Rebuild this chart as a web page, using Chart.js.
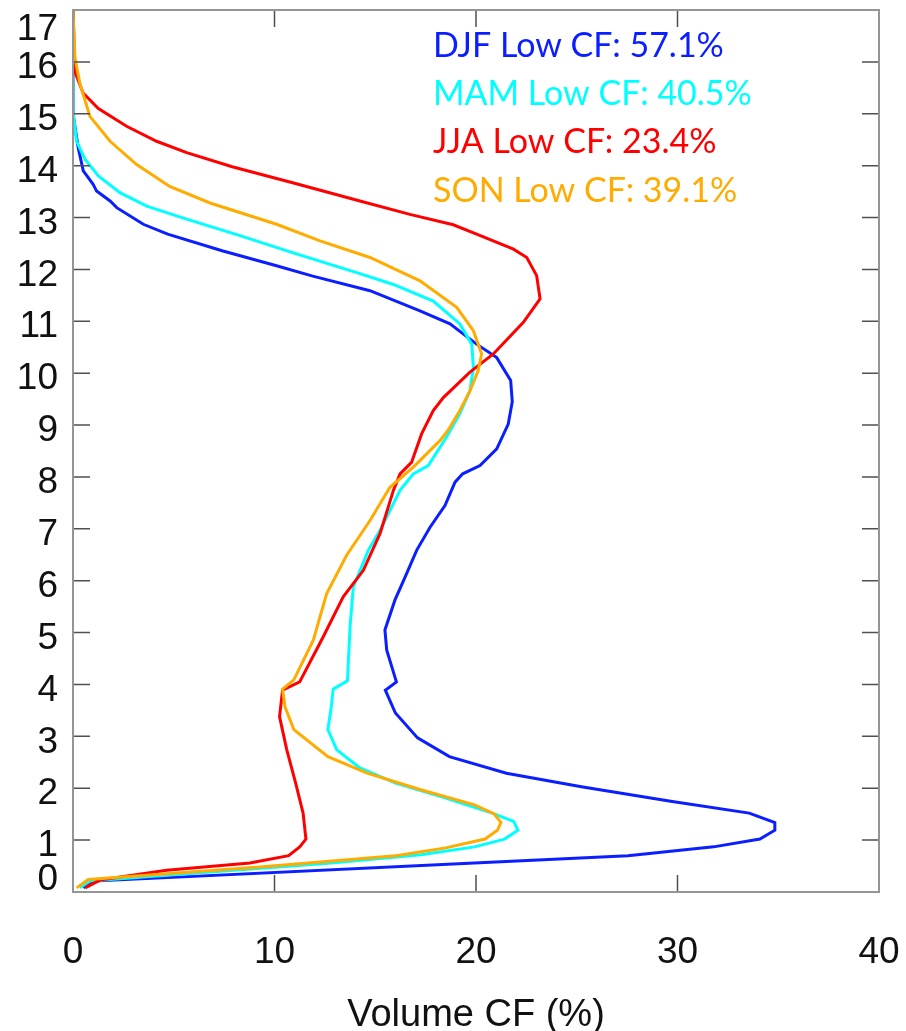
<!DOCTYPE html>
<html lang="en">
<head>
    <meta charset="UTF-8">
    <title>Volume CF profiles</title>
    <script src="https://cdn.jsdelivr.net/npm/chart.js@4.4.1/dist/chart.umd.min.js"></script>
    <style>
        html, body { margin: 0; padding: 0; background: #fff; }
        #wrap { width: 906px; height: 1031px; }
    </style>
</head>
<body>
    <div id="wrap"><canvas id="cfChart"></canvas></div>

    <script>
        // height levels (km) and volume cloud fraction (%)
        const djfHeight = [17, 15.0, 14.34, 13.9, 13.64, 13.51, 13.32, 13.19, 12.87, 12.68, 12.36, 12.07, 11.87, 11.59, 11.2, 10.95, 10.56, 10.3, 9.86, 9.45, 9.02, 8.54, 8.22, 8.06, 7.9, 7.45, 7.03, 6.59, 6.07, 5.63, 5.05, 4.66, 4.05, 3.89, 3.45, 2.97, 2.61, 2.29, 2.03, 1.75, 1.52, 1.34, 1.19, 1.02, 0.87, 0.70, 0.56, 0.21, 0.08];
        const djfCF     = [0, 0, 0.26, 0.51, 1.0, 1.17, 1.84, 2.17, 3.49, 4.7, 7.4, 10.1, 11.9, 14.74, 17.22, 18.71, 20.03, 21.03, 21.72, 21.8, 21.6, 21.03, 20.2, 19.34, 18.96, 18.46, 17.72, 17.06, 16.48, 15.98, 15.48, 15.57, 16.05, 15.5, 16.0, 17.1, 18.68, 21.51, 25.23, 29.66, 33.56, 34.83, 34.83, 34.09, 31.79, 27.54, 19.92, 1.0, 0.51];

        const mamHeight = [17, 15.04, 14.47, 14.12, 13.8, 13.48, 13.22, 12.97, 12.65, 12.32, 11.92, 11.71, 11.39, 10.95, 10.56, 10.11, 9.66, 9.22, 8.77, 8.22, 8.06, 7.74, 6.97, 6.59, 5.88, 5.11, 4.07, 3.91, 3.57, 3.13, 2.74, 2.39, 2.1, 1.81, 1.52, 1.36, 1.19, 1.02, 0.87, 0.72, 0.56, 0.21, 0.08];
        const mamCF     = [0, 0, 0.18, 0.6, 1.26, 2.33, 3.66, 5.64, 8.29, 10.93, 14.24, 15.9, 17.88, 19.2, 19.79, 19.87, 19.7, 19.2, 18.54, 17.63, 16.89, 16.23, 15.24, 14.66, 13.91, 13.75, 13.62, 12.91, 12.82, 12.65, 13.09, 14.24, 16.01, 18.5, 20.8, 21.87, 22.08, 21.42, 19.92, 17.26, 12.82, 0.84, 0.35];

        const jjaHeight = [17, 15.8, 15.4, 15.1, 14.76, 14.47, 14.25, 13.98, 13.67, 13.32, 13.06, 12.86, 12.68, 12.39, 12.23, 11.88, 11.43, 10.98, 10.37, 10.02, 9.53, 9.28, 8.83, 8.28, 8.06, 7.74, 6.91, 6.2, 5.69, 4.92, 4.05, 3.89, 3.38, 2.74, 2.1, 1.52, 1.02, 0.87, 0.70, 0.56, 0.42, 0.23, 0.08];
        const jjaCF     = [0, 0.1, 0.5, 1.26, 2.66, 4.15, 5.64, 7.9, 10.9, 14.24, 16.72, 18.87, 20.03, 21.86, 22.52, 23.01, 23.18, 22.35, 20.86, 19.7, 18.38, 17.88, 17.3, 16.8, 16.23, 15.9, 15.24, 14.41, 13.41, 12.42, 11.25, 10.4, 10.25, 10.61, 11.05, 11.42, 11.56, 11.25, 10.7, 8.78, 4.65, 1.34, 0.6];

        const sonHeight = [17, 16.07, 15.57, 14.95, 14.47, 14.02, 13.6, 13.28, 12.87, 12.55, 12.23, 11.78, 11.27, 10.82, 10.37, 10.05, 9.66, 9.28, 8.89, 8.7, 8.19, 7.8, 7.16, 6.49, 5.75, 4.86, 4.09, 3.91, 3.57, 3.13, 2.61, 2.29, 1.97, 1.68, 1.51, 1.34, 1.19, 1.02, 0.85, 0.70, 0.48, 0.24, 0.08];
        const sonCF     = [0, 0.1, 0.35, 0.84, 1.84, 3.16, 4.8, 6.8, 10.1, 12.26, 14.74, 17.22, 19.04, 19.87, 20.28, 20.11, 19.7, 19.2, 18.6, 18.21, 16.89, 15.73, 14.74, 13.58, 12.59, 11.93, 10.96, 10.4, 10.52, 10.96, 12.65, 14.6, 17.26, 19.92, 20.89, 21.24, 21.06, 20.45, 18.5, 16.02, 9.28, 0.76, 0.18];

        const seasonLabels = ['DJF Low CF: 57.1%', 'MAM Low CF: 40.5%', 'JJA Low CF: 23.4%', 'SON Low CF: 39.1%'];
        const seasonColors = ['#0a1eff', '#00ffff', '#ff0000', '#ffab00'];

        const xTicks = [0, 10, 20, 30, 40];
        const yTicks = [0, 1, 2, 3, 4, 5, 6, 7, 8, 9, 10, 11, 12, 13, 14, 15, 16, 17];
        const xTitle = 'Volume CF (%)';

        const axisFont = '"Liberation Sans", Arial, Helvetica, sans-serif';

        function toPoints(h, v) {
            return h.map((y, i) => ({ x: v[i], y: y }));
        }

        const series = [
            toPoints(djfHeight, djfCF),
            toPoints(mamHeight, mamCF),
            toPoints(jjaHeight, jjaCF),
            toPoints(sonHeight, sonCF)
        ];

        // frame, inward ticks, tick labels, axis title and coloured text legend
        const decorPlugin = {
            id: 'decor',
            afterDraw(chart) {
                const ctx = chart.ctx;
                const a = chart.chartArea;
                const xs = chart.scales.x;
                const ys = chart.scales.y;
                ctx.save();

                // ticks
                ctx.strokeStyle = '#505050';
                ctx.lineWidth = 1.5;
                ctx.beginPath();
                xTicks.forEach(t => {
                    if (t === xTicks[0] || t === xTicks[xTicks.length - 1]) return;
                    const px = xs.getPixelForValue(t);
                    ctx.moveTo(px, a.bottom); ctx.lineTo(px, a.bottom - 17);
                    ctx.moveTo(px, a.top); ctx.lineTo(px, a.top + 17);
                });
                yTicks.forEach(t => {
                    if (t === yTicks[0] || t === yTicks[yTicks.length - 1]) return;
                    const py = ys.getPixelForValue(t);
                    ctx.moveTo(a.left, py); ctx.lineTo(a.left + 17, py);
                    ctx.moveTo(a.right, py); ctx.lineTo(a.right - 17, py);
                });
                ctx.stroke();

                // box
                ctx.strokeStyle = '#959595';
                ctx.lineWidth = 2;
                ctx.strokeRect(a.left, a.top, a.right - a.left, a.bottom - a.top);

                // y tick labels
                ctx.fillStyle = '#111';
                ctx.font = '37px ' + axisFont;
                ctx.textAlign = 'right';
                ctx.textBaseline = 'middle';
                yTicks.forEach(t => {
                    let py = ys.getPixelForValue(t) + 6;
                    py = Math.min(Math.max(py, a.top + 20), a.bottom - 12);
                    ctx.fillText(String(t), a.left - 15, py);
                });

                // x tick labels and title
                ctx.textAlign = 'center';
                ctx.textBaseline = 'alphabetic';
                xTicks.forEach(t => {
                    ctx.fillText(String(t), xs.getPixelForValue(t), 963);
                });
                ctx.font = '38px ' + axisFont;
                ctx.fillText(xTitle, (a.left + a.right) / 2, 1026);

                // season text
                ctx.font = '34px Lato, "Open Sans", sans-serif';
                ctx.textAlign = 'left';
                seasonLabels.forEach((s, i) => {
                    ctx.fillStyle = seasonColors[i];
                    ctx.fillText(s, 433, 57 + i * 48.2);
                });
                ctx.restore();
            }
        };

        const ctx = document.getElementById('cfChart').getContext('2d');
        const cfChart = new Chart(ctx, {
            type: 'scatter',
            data: {
                datasets: series.map((pts, i) => ({
                    label: seasonLabels[i],
                    data: pts,
                    showLine: true,
                    borderColor: seasonColors[i],
                    backgroundColor: seasonColors[i],
                    borderWidth: 3,
                    pointRadius: 0,
                    tension: 0,
                    order: 4 - i
                }))
            },
            options: {
                responsive: true,
                maintainAspectRatio: false,
                animation: false,
                layout: { padding: { top: 10, right: 27, left: 0, bottom: 0 } },
                plugins: {
                    legend: { display: false },
                    tooltip: { enabled: false }
                },
                scales: {
                    x: {
                        type: 'linear',
                        min: 0,
                        max: 40,
                        afterBuildTicks: s => { s.ticks = xTicks.map(v => ({ value: v })); },
                        grid: { display: false, drawTicks: false },
                        border: { display: false },
                        ticks: { display: false },
                        afterFit: s => { s.height = 139; }
                    },
                    y: {
                        type: 'linear',
                        min: 0,
                        max: 17,
                        afterBuildTicks: s => { s.ticks = yTicks.map(v => ({ value: v })); },
                        grid: { display: false, drawTicks: false },
                        border: { display: false },
                        ticks: { display: false },
                        afterFit: s => { s.width = 73; }
                    }
                }
            },
            plugins: [decorPlugin]
        });
    </script>
</body>
</html>
